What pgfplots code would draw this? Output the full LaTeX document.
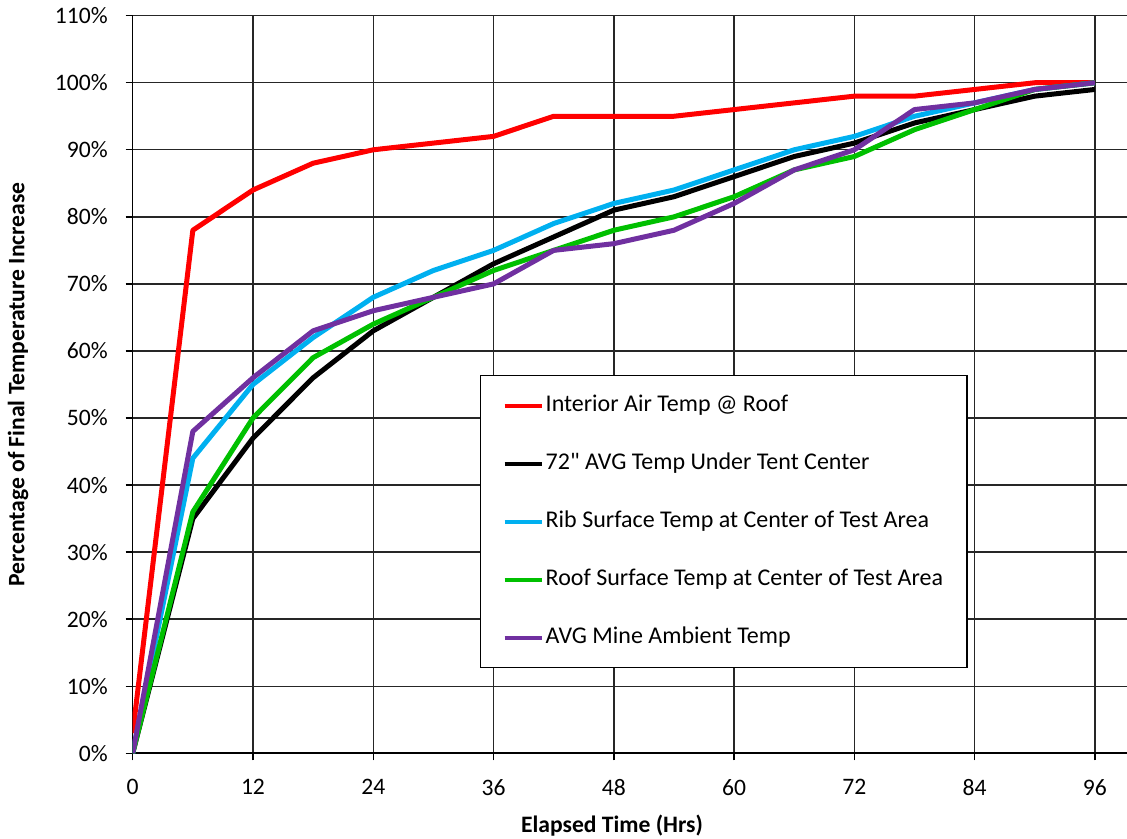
\documentclass[border=0pt]{standalone}
\usepackage{fontspec}
\setmainfont{Carlito}
\usepackage{pgfplots}
\pgfplotsset{compat=1.18}
\definecolor{cred}{RGB}{255,0,0}
\definecolor{cblue}{RGB}{0,176,240}
\definecolor{cgreen}{RGB}{0,192,0}
\definecolor{cpurple}{RGB}{112,48,160}
\begin{document}
\begin{tikzpicture}
\begin{axis}[
  name=ax,
  scale only axis,
  width=497.15pt, height=368.8pt,
  xmin=0, xmax=99.2, ymin=0, ymax=110,
  xtick={0,12,...,96},
  ytick={0,10,...,110},
  yticklabel={\pgfmathprintnumber{\tick}\%},
  axis lines*=left,
  axis line style={-, black, line width=0.8pt},
  grid=major,
  major grid style={black!85, line width=0.7pt},
  tick align=outside,
  major tick length=3.5pt,
  tick style={black, line width=0.7pt},
  /pgf/number format/assume math mode=true,
  ticklabel style={font=\fontsize{11.8}{13}\selectfont},
  yticklabel style={xshift=-5.5pt},
  xticklabel style={yshift=-6pt},
  xlabel={Elapsed Time (Hrs)},
  ylabel={Percentage of Final Temperature Increase},
  label style={font=\fontsize{11.8}{14}\bfseries},
  xlabel style={at={(axis description cs:0.482,-0.0986)}, anchor=center},
  ylabel style={at={(axis description cs:-0.1153,0.5)}, anchor=center},
  legend style={at={(rel axis cs:0.3493,0.5129)}, anchor=north west,
    draw=black, line width=0.7pt, fill=white,
    inner xsep=11pt, inner ysep=8pt, row sep=15pt,
    font=\fontsize{12}{14}\selectfont,
    nodes={inner sep=1pt, text height=9pt, text depth=3pt}},
  legend cell align=left,
  legend image code/.code={\draw[#1,line width=2pt] (0pt,0pt) -- (18.5pt,0pt);},
  every axis plot/.append style={line width=2.5pt, line join=round},
]
\addplot[cred] coordinates {(0,3) (6,78) (12,84) (18,88) (24,90) (30,91) (36,92) (42,95) (48,95) (54,95) (60,96) (66,97) (72,98) (78,98) (84,99) (90,100) (96,100)};
\addlegendentry{Interior Air Temp @ Roof}
\addplot[black] coordinates {(0,0) (6,35) (12,47) (18,56) (24,63) (30,68) (36,73) (42,77) (48,81) (54,83) (60,86) (66,89) (72,91) (78,94) (84,96) (90,98) (96,99)};
\addlegendentry{72\textquotedbl{} AVG Temp Under Tent Center}
\addplot[cblue] coordinates {(0,0) (6,44) (12,55) (18,62) (24,68) (30,72) (36,75) (42,79) (48,82) (54,84) (60,87) (66,90) (72,92) (78,95) (84,97) (90,99) (96,100)};
\addlegendentry{Rib Surface Temp at Center of Test Area}
\addplot[cgreen] coordinates {(0,0) (6,36) (12,50) (18,59) (24,64) (30,68) (36,72) (42,75) (48,78) (54,80) (60,83) (66,87) (72,89) (78,93) (84,96) (90,99) (96,100)};
\addlegendentry{Roof Surface Temp at Center of Test Area}
\addplot[cpurple] coordinates {(0,0) (6,48) (12,56) (18,63) (24,66) (30,68) (36,70) (42,75) (48,76) (54,78) (60,82) (66,87) (72,90) (78,96) (84,97) (90,99) (96,100)};
\addlegendentry{AVG Mine Ambient Temp}
\end{axis}
\pgfresetboundingbox
\path ([xshift=-66.35pt,yshift=-42.85pt]ax.south west) rectangle ([yshift=7.85pt]ax.north east);
\end{tikzpicture}
\end{document}
